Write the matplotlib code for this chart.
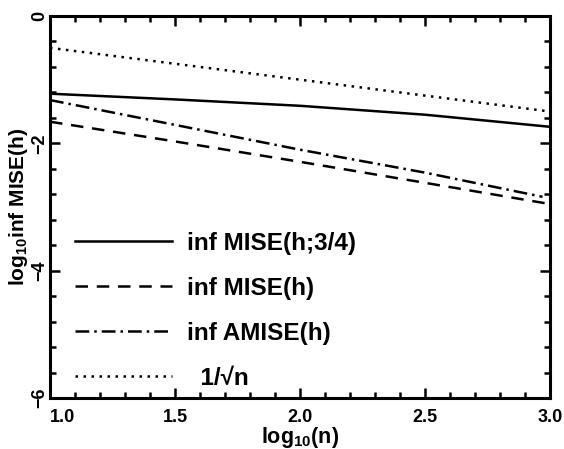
import matplotlib
matplotlib.use('Agg')
import matplotlib.pyplot as plt
from matplotlib.ticker import MultipleLocator

plt.rcParams['font.family'] = ['Liberation Sans', 'DejaVu Sans']
plt.rcParams['font.weight'] = 'bold'

# values (log10 n on x)
x_vals = [1.0, 1.5, 2.0, 2.5, 3.0]
mise_34 = [-1.22, -1.31, -1.41, -1.55, -1.74]
x_mise = [1.0, 1.5, 2.0, 2.5, 2.98]
mise = [-1.66, -1.97, -2.29, -2.62, -2.94]
x_amise = [1.0, 1.5, 2.0, 2.5, 2.97]
amise = [-1.32, -1.71, -2.10, -2.46, -2.84]
inv_sqrt = [-0.5, -0.75, -1.0, -1.25, -1.5]

labels = ['inf MISE(h;3/4)', 'inf MISE(h)', 'inf AMISE(h)', '  1/\u221an']

fig = plt.figure(figsize=(5.64, 4.49), dpi=100)
ax = fig.add_axes([0.0887, 0.1136, 0.8865, 0.8507])

lw = 1.8
ax.plot(x_vals, mise_34, color='black', lw=lw, label=labels[0])
ax.plot(x_mise, mise, color='black', lw=lw, dashes=(5, 3.5), label=labels[1])
ax.plot(x_amise, amise, color='black', lw=lw, dashes=(5.5, 2, 1, 2), label=labels[2])
ax.plot(x_vals, inv_sqrt, color='black', lw=lw, dashes=(1, 2.2), label=labels[3])

ax.set_xlim(1.0, 3.0)
ax.set_ylim(-6, 0)
ax.xaxis.set_major_locator(MultipleLocator(0.5))
ax.xaxis.set_minor_locator(MultipleLocator(0.1))
ax.yaxis.set_major_locator(MultipleLocator(2))
ax.yaxis.set_minor_locator(MultipleLocator(0.4))
ax.xaxis.set_major_formatter(matplotlib.ticker.FormatStrFormatter('%.1f'))

ax.tick_params(which='both', direction='in', top=True, right=True, width=1.8,
               labelsize=13)
ax.tick_params(which='major', length=7)
ax.tick_params(which='minor', length=4)
ax.tick_params(axis='x', which='major', pad=8)
ax.tick_params(axis='y', which='major', pad=1.5)
for s in ax.spines.values():
    s.set_linewidth(2.2)

ax.set_xlabel(r'log$_\mathregular{10}$(n)', fontsize=15.5, fontweight='bold', labelpad=-1)
ax.set_ylabel(r'log$_\mathregular{10}$inf MISE(h)', fontsize=15, fontweight='bold', labelpad=1)

ax.legend(loc='lower left', bbox_to_anchor=(0.05, 0.022), frameon=False,
          prop={'size': 17.5, 'weight': 'bold'}, handlelength=4.0, handletextpad=0.6,
          labelspacing=0.9, borderpad=0, borderaxespad=0)

fig.canvas.draw()
for lab in ax.get_yticklabels():
    lab.set_rotation(90)
    lab.set_va('center')
for t in ax.xaxis.get_major_ticks():
    if abs(t.get_loc() - 1.0) < 1e-9:
        t.label1.set_ha('left')

fig.savefig('out.png', dpi=100)
